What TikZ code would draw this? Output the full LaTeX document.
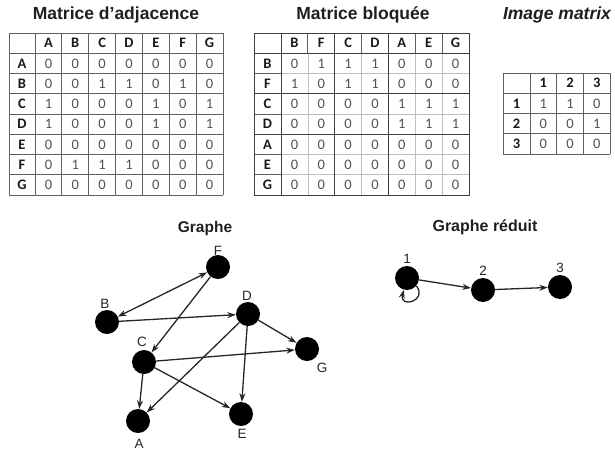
\documentclass[tikz,border=0pt]{standalone}
\usepackage{fontspec}
\setmainfont{Liberation Sans}
\newfontfamily\cellfont{Carlito}
\usetikzlibrary{arrows.meta}
\begin{document}
\begin{tikzpicture}[x=1pt,y=-1pt,
  >={Stealth[length=8.5pt,width=6pt]},
  mtitle/.style={font=\fontsize{17.5}{19}\selectfont\bfseries, text=black!88, inner sep=0pt},
  gtitle/.style={font=\fontsize{15.5}{17}\selectfont\bfseries, text=black!88, inner sep=0pt},
  hdr/.style={font=\cellfont\fontsize{14.5}{16}\selectfont\bfseries, text=black!90, inner sep=0pt},
  cell/.style={font=\cellfont\fontsize{14.5}{16}\selectfont, text=black!68, inner sep=0pt},
  vert/.style={circle, fill=black, minimum size=24pt, inner sep=0pt},
  lab/.style={font=\fontsize{13.5}{15}\selectfont, text=black!85, inner sep=0pt},
  edge/.style={->, draw=black!85, line width=1.3pt},
  dgrid/.style={draw=black!62, line width=0.85pt},
  lgrid/.style={draw=black!25, line width=0.6pt},
  bgrid/.style={draw=black!75, line width=1pt}
]
\useasboundingbox (0,0) rectangle (615,450);

% ---------- Titles ----------
\node[mtitle] (tt1) at (116,15) {Matrice d'adjacence};
\node[mtitle] (tt2) at (363,15) {Matrice bloquée};
\node[mtitle, font=\fontsize{17.5}{19}\selectfont\bfseries\itshape] (tt3) at (557,15) {Image matrix};
\node[gtitle] (tg1) at (205,228) {Graphe};
\node[gtitle, font=\fontsize{16}{18}\selectfont\bfseries] (tg2) at (485,227) {Graphe réduit};

% ---------- Table 1 ----------
\begin{scope}[shift={(9,33)}]
  \foreach \k in {0,...,8} \draw[dgrid] (0,{\k*20.25}) -- (214,{\k*20.25});
  \draw[dgrid] (0,0) -- (0,162);
  \foreach \k in {0,...,7} \draw[dgrid] ({26+\k*26.86},0) -- ({26+\k*26.86},162);
  \foreach \c [count=\j] in {A,B,C,D,E,F,G} {
    \node[hdr] (ta-h\j) at ({26+(\j-0.5)*26.86},10.125) {\c};
    \node[hdr] (ta-r\j) at (13,{(\j+0.5)*20.25}) {\c};
  }
  \foreach \vals [count=\i] in {{0,0,0,0,0,0,0},{0,0,1,1,0,1,0},{1,0,0,0,1,0,1},{1,0,0,0,1,0,1},{0,0,0,0,0,0,0},{0,1,1,1,0,0,0},{0,0,0,0,0,0,0}} {
    \foreach \v [count=\j] in \vals {
      \node[cell] (ta-\i-\j) at ({26+(\j-0.5)*26.86},{(\i+0.5)*20.25}) {\v};
    }
  }
\end{scope}

% ---------- Table 2 ----------
\begin{scope}[shift={(254,33)}]
  \foreach \k in {2,...,7} \draw[lgrid] (27,{\k*20.25}) -- (215,{\k*20.25});
  \foreach \k in {1,...,6} \draw[lgrid] ({27+\k*26.86},20.25) -- ({27+\k*26.86},162);
  \foreach \k in {0,...,8} \draw[dgrid] (0,{\k*20.25}) -- (27,{\k*20.25});
  \foreach \k in {0,...,7} \draw[dgrid] ({27+\k*26.86},0) -- ({27+\k*26.86},20.25);
  \draw[bgrid] (0,0) rectangle (215,162);
  \draw[bgrid] (27,0) -- (27,162);
  \draw[bgrid] (0,20.25) -- (215,20.25);
  \draw[bgrid] ({27+2*26.86},0) -- ({27+2*26.86},162);
  \draw[bgrid] ({27+4*26.86},0) -- ({27+4*26.86},162);
  \draw[bgrid] (0,{3*20.25}) -- (215,{3*20.25});
  \draw[bgrid] (0,{5*20.25}) -- (215,{5*20.25});
  \foreach \c [count=\j] in {B,F,C,D,A,E,G} {
    \node[hdr] (tb-h\j) at ({27+(\j-0.5)*26.86},10.125) {\c};
    \node[hdr] (tb-r\j) at (13.5,{(\j+0.5)*20.25}) {\c};
  }
  \foreach \vals [count=\i] in {{0,1,1,1,0,0,0},{1,0,1,1,0,0,0},{0,0,0,0,1,1,1},{0,0,0,0,1,1,1},{0,0,0,0,0,0,0},{0,0,0,0,0,0,0},{0,0,0,0,0,0,0}} {
    \foreach \v [count=\j] in \vals {
      \node[cell] (tb-\i-\j) at ({27+(\j-0.5)*26.86},{(\i+0.5)*20.25}) {\v};
    }
  }
\end{scope}

% ---------- Table 3 ----------
\begin{scope}[shift={(503,73)}]
  \foreach \k in {0,...,4} \draw[dgrid] (0,{\k*20.25}) -- (107.25,{\k*20.25});
  \draw[dgrid] (0,0) -- (0,81);
  \foreach \k in {0,...,3} \draw[dgrid] ({27+\k*26.75},0) -- ({27+\k*26.75},81);
  \foreach \c [count=\j] in {1,2,3} {
    \node[hdr] (tc-h\j) at ({27+(\j-0.5)*26.75},10.125) {\c};
    \node[hdr] (tc-r\j) at (13.5,{(\j+0.5)*20.25}) {\c};
  }
  \foreach \vals [count=\i] in {{1,1,0},{0,0,1},{0,0,0}} {
    \foreach \v [count=\j] in \vals {
      \node[cell] (tc-\i-\j) at ({27+(\j-0.5)*26.75},{(\i+0.5)*20.25}) {\v};
    }
  }
\end{scope}

% ---------- Graphe ----------
\node[vert] (F) at (218,267) {};
\node[vert] (B) at (107,322) {};
\node[vert] (D) at (248,314) {};
\node[vert] (C) at (144,362) {};
\node[vert] (G) at (307,349) {};
\node[vert] (A) at (138,421) {};
\node[vert] (E) at (241,414) {};
\node[lab] (lF) at (218,251) {F};
\node[lab] (lB) at (105,304) {B};
\node[lab] (lD) at (247,296) {D};
\node[lab] (lC) at (142,342) {C};
\node[lab] (lG) at (322,368) {G};
\node[lab] (lA) at (139,444) {A};
\node[lab] (lE) at (242,434) {E};

\draw[edge, <->] (B) -- (F);
\draw[edge] (B) -- (D);
\draw[edge] (F) -- (C);
\draw[edge] (D) -- (G);
\draw[edge] (D) -- (A);
\draw[edge] (D) -- (E);
\draw[edge] (C) -- (G);
\draw[edge] (C) -- (A);
\draw[edge] (C) -- (E);

% ---------- Graphe reduit ----------
\node[vert] (n1) at (407,278) {};
\node[vert] (n2) at (483,290) {};
\node[vert] (n3) at (560,287) {};
\node[lab] (l1) at (407,259) {1};
\node[lab] (l2) at (483,271) {2};
\node[lab] (l3) at (560,268) {3};
\draw[edge] (n1) -- (n2);
\draw[edge] (n2) -- (n3);
\draw[edge] (n1.-40) .. controls +(12,15) and +(-5,19) .. (n1.-105);
\end{tikzpicture}
\end{document}
